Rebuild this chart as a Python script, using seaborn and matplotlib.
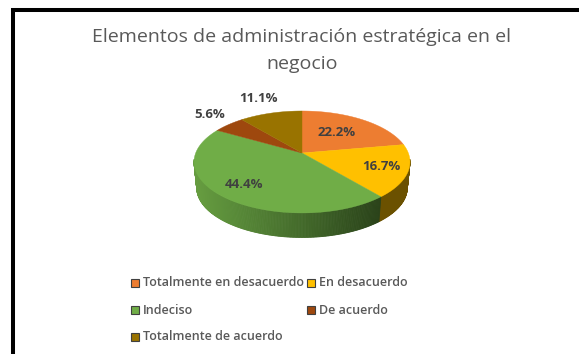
import numpy as np
import seaborn as sns
import matplotlib
matplotlib.use("Agg")
import matplotlib.pyplot as plt
from matplotlib.patches import Rectangle

sns.set_theme(style="white")
plt.rcParams['font.family'] = ['Open Sans', 'DejaVu Sans']

TITLE = "Elementos de administración estratégica en el\nnegocio"
categories = ["Totalmente en desacuerdo", "En desacuerdo", "Indeciso", "De acuerdo", "Totalmente de acuerdo"]
values = [22.2, 16.7, 44.4, 5.6, 11.1]
labels = ["22.2%", "16.7%", "44.4%", "5.6%", "11.1%"]
colors = ["#ED7D31", "#FFC000", "#70AD47", "#9E480E", "#997300"]

W, H = 579, 354
fig = plt.figure(figsize=(W / 100, H / 100), dpi=100)
ax = fig.add_axes([0, 0, 1, 1])
ax.set_xlim(0, W)
ax.set_ylim(H, 0)
ax.axis("off")

CX, CY, A, B, K = 302.0, 153.0, 106.3, 49.4, 0.176


def top(theta):
    u, v = np.sin(theta), np.cos(theta)
    d = 1 + K * v
    return CX + A * u / d, CY - B * v / d


def bottom(theta):
    x, y = top(theta)
    return CX + 0.975 * (x - CX), CY + 26.0 + 0.975 * (y - CY)


fracs = np.array(values) / sum(values)
edges = np.concatenate([[0], np.cumsum(fracs)]) * 2 * np.pi

# side wall with horizontal shading
vis0, vis1 = np.radians(97), np.radians(263)
ths = np.linspace(vis0, vis1, 240)
stops_x = np.array([196, 235, 290, 340, 381])
stops_c = np.array([[0x66, 0x9C, 0x40], [0x58, 0x8A, 0x38], [0x47, 0x70, 0x2D], [0x36, 0x56, 0x22], [0x2A, 0x42, 0x19]]) / 255
for t0, t1 in zip(ths[:-1], ths[1:]):
    tm = (t0 + t1) / 2
    x0, y0 = top(t0)
    x1, y1 = top(t1)
    x2, y2 = bottom(t1)
    x3, y3 = bottom(t0)
    if tm < edges[2]:
        c = "#6B5100"
    else:
        xm = top(tm)[0]
        c = [np.interp(xm, stops_x, stops_c[:, i]) for i in range(3)]
    ax.fill([x0, x1, x2, x3], [y0, y1, y2, y3], color=c, lw=0.6, zorder=2)

# top face
for i, c in enumerate(colors):
    th = np.linspace(edges[i], edges[i + 1], 120)
    x, y = top(th)
    ax.fill(np.r_[CX, x], np.r_[CY, y], color=c, lw=0.3, zorder=3)

# data labels
label_xy = [(337, 132), (381, 166), (244, 184), (210, 114), (258, 99)]
for s, (lx, ly) in zip(labels, label_xy):
    ax.text(lx, ly, s, ha="center", va="center", fontsize=9.5, fontweight="bold", color="#404040", zorder=5)

# title
ax.text(302, 37, TITLE.split("\n")[0], ha="center", va="center", fontsize=14, color="#595959")
ax.text(302, 64, TITLE.split("\n")[1], ha="center", va="center", fontsize=14, color="#595959")

# legend
leg_xy = [(131, 283), (307, 283), (131, 310), (307, 310), (131, 337)]
for name, c, (lx, ly) in zip(categories, colors, leg_xy):
    ax.add_patch(Rectangle((lx, ly - 4), 8, 8, facecolor=c, edgecolor="#404040", lw=0.8))
    ax.text(lx + 12, ly, name, ha="left", va="center", fontsize=9, fontweight="semibold", color="#595959")

# frame from the screenshot
ax.plot([13, 13, W], [H, 10, 10], color="black", lw=2.9, solid_joinstyle="miter", zorder=6)

fig.savefig("out.png", dpi=100, facecolor="white")
